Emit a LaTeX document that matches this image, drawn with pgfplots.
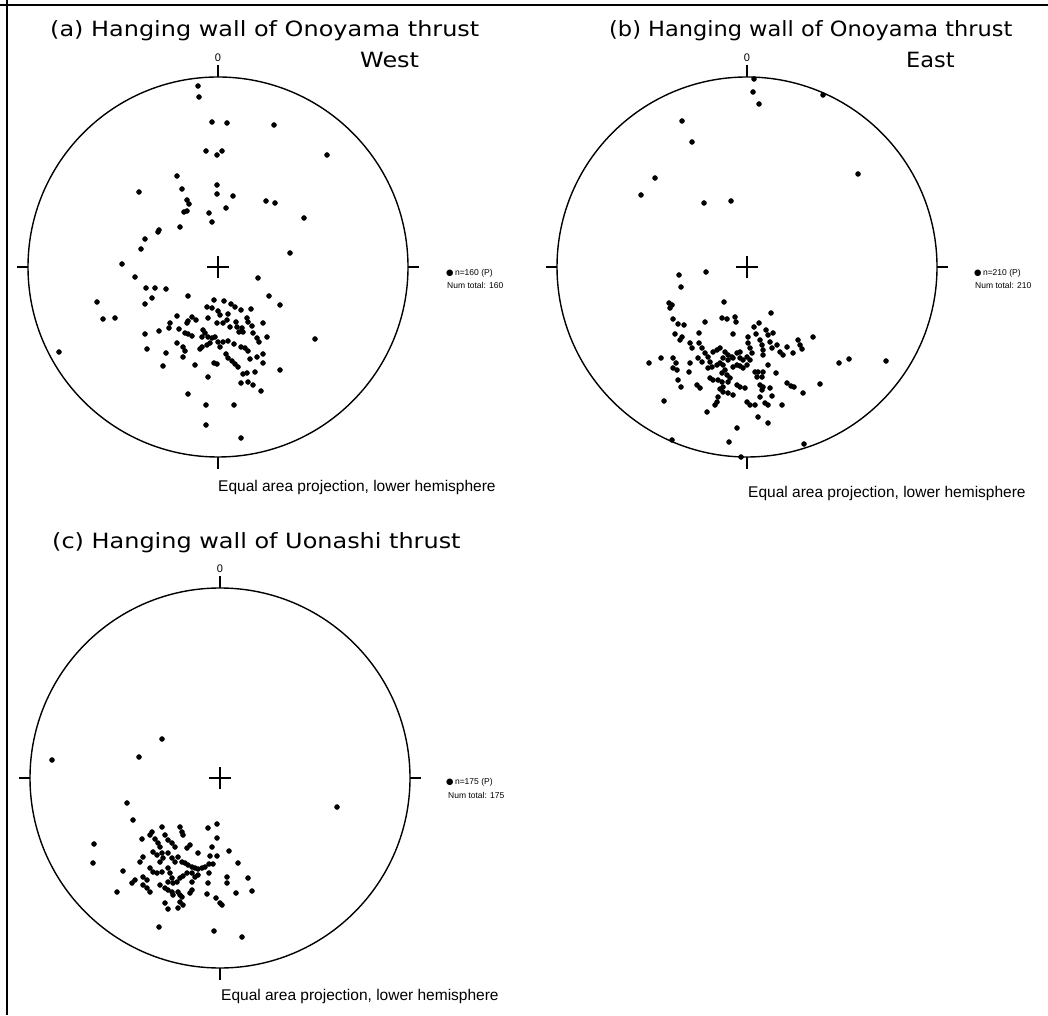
\documentclass[border=0pt]{standalone}
\usepackage{pgfplots}
\pgfplotsset{compat=1.18}
\usepackage{fontspec}
\setmainfont{Liberation Sans}
\newfontfamily\titlefont{DejaVu Sans}
\newfontfamily\dejavu{DejaVu Sans}
\pgfplotsset{stereo/.style={scale only axis, width=380pt, height=380pt, axis lines=none,
  y dir=reverse, clip=false, anchor=center},
  dots/.style={only marks, mark=*, mark size=2.5pt, black}}
\newcommand{\net}[2]{%
\begin{scope}[shift={(#1pt,#2pt)}, x=1pt, y=1pt]
 \draw[line width=1.4pt] (0,0) circle[radius=190];
 \draw[line width=1.1pt] (-11,0)--(11,0) (0,-11)--(0,11);
 \draw[line width=1.1pt] (0,190)--(0,202) (0,-190)--(0,-202) (-190,0)--(-201,0) (190,0)--(201,0);
 \node[font=\fontsize{11}{11}\selectfont, inner sep=0pt] at (0,209) {0};
\end{scope}}
\newcommand{\ttl}[1]{\titlefont\fontsize{21}{24}\selectfont #1}
\begin{document}
\begin{tikzpicture}[x=1pt,y=1pt]
\useasboundingbox (0,0) rectangle (1048,1015);
\draw[line width=2pt] (0,1010)--(1048,1010);
\draw[line width=2pt] (7,1015)--(7,0);

% ---------- (a)
\net{218}{748}
\node[anchor=west, inner sep=0pt, xscale=1.14] at (50,984) {\ttl{(a) Hanging wall of Onoyama thrust}};
\node[anchor=west, inner sep=0pt, xscale=1.14] at (360,955) {\ttl{West}};
\node[anchor=west, inner sep=0pt, font=\fontsize{8.5}{9}\selectfont] at (446,742) {{\dejavu ●}\,n=160 (P)};
\node[anchor=west, inner sep=0pt, font=\fontsize{8.5}{9}\selectfont] at (447,730) {Num total: 160};
\node[anchor=west, inner sep=0pt, font=\fontsize{15.5}{16}\selectfont] at (218,528) {Equal area projection, lower hemisphere};
\begin{axis}[stereo, at={(218pt,748pt)}, xmin=28, xmax=408, ymin=77, ymax=457]
\addplot[dots] coordinates {
(198,86) (199,97) (212,122) (227,123) (274,125) (327,155) (206,151) (217,155) (222,151) (177,176)
(139,192) (182,189) (217,185) (217,194) (233,196) (187,200) (189,204) (187,211) (184,212) (209,213)
(226,208) (266,201) (275,203) (212,222) (304,218) (180,227) (159,230) (158,232) (145,239) (141,249)
(290,253) (122,264)
(135,277) (258,278) (146,288) (155,288) (166,289) (97,302) (103,319) (115,318) (59,352) (315,339)
(206,425) (241,438)
(145,304) (152,298) (188,296) (269,296) (280,305) (214,300) (224,301) (231,304) (235,307) (241,310)
(251,309) (207,307) (212,308) (218,311) (220,315) (228,314) (177,316) (192,317) (188,321) (187,323)
(196,320) (208,318) (170,323) (169,328) (179,329) (159,331) (145,334) (247,318) (248,322) (252,326)
(263,323) (217,323) (223,323) (227,320) (230,327) (236,322) (237,327) (239,332) (243,332) (242,328)
(203,330) (205,333) (208,337) (212,338) (215,337) (202,337) (185,333) (188,334) (192,336) (253,333)
(257,338) (259,342) (267,337) (218,342) (223,342) (228,341) (210,343) (207,345) (202,347) (200,349)
(177,343) (183,347) (185,351) (183,357) (147,349) (166,353) (163,366) (195,365) (208,377) (214,363)
(217,364) (234,344) (241,347) (245,348) (248,351) (220,347) (226,354) (228,358) (232,361) (235,364)
(238,367) (250,359) (257,357) (263,354) (263,363) (255,372) (243,374) (247,373) (241,383) (248,382)
(253,385) (261,391) (280,370) (188,394) (206,405) (234,405)
};
\end{axis}

% ---------- (b)
\net{747}{748}
\node[anchor=west, inner sep=0pt, xscale=1.07] at (609,984) {\ttl{(b) Hanging wall of Onoyama thrust}};
\node[anchor=west, inner sep=0pt, xscale=1.07] at (906,955) {\ttl{East}};
\node[anchor=west, inner sep=0pt, font=\fontsize{8.5}{9}\selectfont] at (974,742) {{\dejavu ●}\,n=210 (P)};
\node[anchor=west, inner sep=0pt, font=\fontsize{8.5}{9}\selectfont] at (975,730) {Num total: 210};
\node[anchor=west, inner sep=0pt, font=\fontsize{15.5}{16}\selectfont] at (748,522) {Equal area projection, lower hemisphere};
\begin{axis}[stereo, at={(747pt,748pt)}, xmin=557, xmax=937, ymin=77, ymax=457]
\addplot[dots] coordinates {
(754,79) (753,92) (759,104) (823,95) (682,121) (692,142) (858,174) (655,178) (641,195) (704,203) (731,201)
(679,275) (706,272) (681,287) (669,303) (672,305) (670,308) (724,302) (771,313) (705,322) (722,318)
(727,319) (735,317) (736,322) (813,337) (649,363) (661,358) (839,363) (849,359) (886,361) (820,384)
(803,393) (664,401) (707,412) (758,417) (768,423) (737,428) (729,442) (804,444) (672,440) (741,457)
(782,405) (787,383) (791,386)
(673,319) (678,324) (684,325) (675,334) (682,337) (680,340) (699,333) (733,334) (754,327) (759,323)
(756,334) (766,330) (768,335) (773,333) (748,337) (748,343) (750,348) (752,353) (760,340) (762,345)
(763,350) (763,355) (770,342) (772,348) (777,345) (780,352) (783,355) (787,347) (793,353) (798,340)
(800,345) (802,349) (690,343) (692,348) (699,343) (702,348) (705,353) (708,357) (713,352) (717,350)
(720,348) (725,352) (728,355) (732,357) (737,353) (740,352) (723,358) (728,360) (733,358) (740,358)
(743,360) (747,357) (750,360) (710,362) (712,367) (708,368) (717,365) (720,363) (723,365) (725,370)
(722,373) (727,375) (730,378) (728,382) (733,367) (737,365) (740,366) (747,365) (743,368) (673,358)
(676,363) (673,368) (677,370) (690,363) (689,372) (698,358) (702,362) (755,372) (758,372) (763,372)
(757,377) (762,377) (768,365) (776,373) (678,380) (681,387) (697,385) (700,388) (710,378) (713,380)
(718,380) (722,382) (723,387) (737,385) (740,387) (745,388) (720,389) (723,392) (728,393) (733,395)
(760,385) (763,387) (762,390) (770,388) (718,397) (717,402) (715,405) (747,402) (750,405) (755,405)
(760,397) (765,403) (768,405) (772,396) (794,387)
};
\end{axis}

% ---------- (c)
\net{220}{237}
\node[anchor=west, inner sep=0pt, xscale=1.14] at (52,472) {\ttl{(c) Hanging wall of Uonashi thrust}};
\node[anchor=west, inner sep=0pt, font=\fontsize{8.5}{9}\selectfont] at (446,233) {{\dejavu ●}\,n=175 (P)};
\node[anchor=west, inner sep=0pt, font=\fontsize{8.5}{9}\selectfont] at (448,220) {Num total: 175};
\node[anchor=west, inner sep=0pt, font=\fontsize{15.5}{16}\selectfont] at (221,19) {Equal area projection, lower hemisphere};
\begin{axis}[stereo, at={(220pt,237pt)}, xmin=30, xmax=410, ymin=588, ymax=968]
\addplot[dots] coordinates {
(162,739) (52,760) (139,757) (337,807) (127,803) (133,820) (94,844) (93,863) (123,871) (117,892)
(159,927) (214,931) (242,937) (248,878) (252,891) (236,893) (238,863) (229,851) (217,824) (208,828)
(217,838) (212,847) (210,856) (217,856) (209,864) (213,864) (209,873) (208,883) (227,877) (227,883)
(207,894) (216,898) (220,903) (198,853)
(162,827) (180,827) (182,832) (183,835) (152,832) (150,835) (142,839) (155,839) (158,843) (160,847)
(165,835) (168,840) (172,843) (175,847) (190,845) (187,848) (153,852) (157,855) (162,853) (163,858)
(160,862) (168,853) (172,858) (175,862) (178,857) (182,862) (185,863) (188,865) (192,867) (195,868)
(198,869) (202,868) (205,867) (143,857) (140,862) (150,868) (153,872) (157,873) (162,872) (168,868)
(170,873) (172,878) (168,882) (173,883) (177,882) (180,878) (183,876) (187,873) (192,873) (195,877)
(198,875) (135,880) (132,883) (143,877) (147,880) (143,885) (147,888) (150,892) (160,885) (165,888)
(168,890) (172,892) (173,895) (178,892) (180,895) (182,897) (192,882) (192,890) (190,893) (222,905)
(165,903) (168,909) (180,902) (183,905) (178,908)
};
\end{axis}
\end{tikzpicture}
\end{document}
